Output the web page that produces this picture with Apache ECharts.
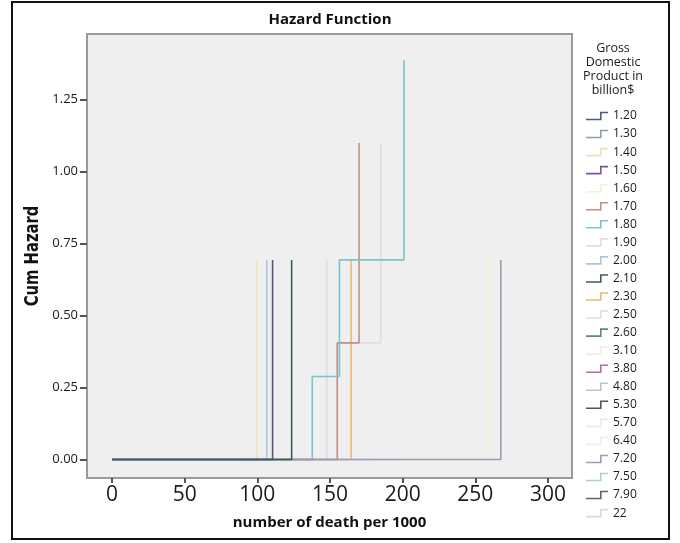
<!DOCTYPE html>
<html>
<head>
<meta charset="utf-8">
<script src="https://cdn.jsdelivr.net/npm/echarts@6/dist/echarts.min.js"></script>
<style>
  body { margin: 0; background: #fff; }
  #chart { width: 680px; height: 543px; }
</style>
</head>
<body>
<div id="chart"></div>
<script>
// GDP groups as in the legend
const groups = ['1.20', '1.30', '1.40', '1.50', '1.60', '1.70', '1.80', '1.90', '2.00', '2.10', '2.30',
  '2.50', '2.60', '3.10', '3.80', '4.80', '5.30', '5.70', '6.40', '7.20', '7.50', '7.90', '22'];

// step times (number of death per 1000) and cum hazard after each step, per group
const stepTimes = [
  [0, 110.5], [0, 130], [0, 99.5], [0, 145], [0, 258.5], [0, 155, 170], [0, 137.8, 156.5, 200.9],
  [0, 155, 184.9], [0, 106.5], [0, 123.6], [0, 164.5], [0, 147.8], [0, 120], [0, 84.6],
  [0, 140], [0, 180], [0, 100], [0, 275], [0, 90], [0, 267.5], [0, 150], [0, 110], [0, 200]
];
const stepHazard = [
  [0, 0.693], [0, 0], [0, 0.693], [0, 0], [0, 0.693], [0, 0.405, 1.099], [0, 0.288, 0.693, 1.386],
  [0, 0.405, 1.099], [0, 0.693], [0, 0.693], [0, 0.693], [0, 0.693], [0, 0], [0, 0.693],
  [0, 0], [0, 0], [0, 0], [0, 0], [0, 0], [0, 0.693], [0, 0], [0, 0], [0, 0]
];

// tick labels
const xTickValues = [0, 50, 100, 150, 200, 250, 300];
const yTickValues = [0, 0.25, 0.5, 0.75, 1.0, 1.25];

// SPSS-like palette, one per group
const groupColors = ['#4e5c78', '#86a892', '#ece4bc', '#7c5690', '#f6f1d6', '#c09088', '#78c4cc',
  '#e4dce4', '#aac6e2', '#3e5c5e', '#e6bc72', '#e2dae8', '#5a8686', '#eef0e6', '#b86c98',
  '#b8c4d4', '#555555', '#ebebf0', '#efefef', '#9c9cb4', '#a8d6c6', '#646464', '#d4dbe3'];
// darker lines drawn on top
const lineZ = { '1.20': 5, '2.10': 5, '7.20': 4, '1.80': 4, '1.70': 4 };

const FONT = '"Open Sans", "DejaVu Sans", sans-serif';

let myChart = echarts.init(document.getElementById('chart'));

const series = groups.map(function (g, i) {
  return {
    name: g,
    type: 'line',
    step: 'end',
    showSymbol: false,
    symbol: 'none',
    z: lineZ[g] || 2,
    color: groupColors[i],
    lineStyle: { width: 1.6, color: groupColors[i] },
    emphasis: { disabled: true },
    data: stepTimes[i].map(function (t, k) { return [t, stepHazard[i][k]]; })
  };
});

myChart.setOption({
  animation: false,
  backgroundColor: '#fff',
  // grid = the grey plot frame
  grid: { left: 87, right: 108, top: 34, bottom: 65 },
  xAxis: {
    type: 'value',
    min: -17.2, max: 316.5,
    axisLine: { show: false, onZero: false },
    axisTick: { show: true, length: 5, customValues: xTickValues, lineStyle: { color: '#555', width: 2 } },
    axisLabel: { fontSize: 21, color: '#1a1a1a', margin: 7, fontFamily: FONT, customValues: xTickValues },
    splitLine: { show: false },
    name: 'number of death per 1000',
    nameLocation: 'middle',
    nameGap: 37,
    nameTextStyle: { fontSize: 15, fontWeight: 'bold', color: '#111', fontFamily: FONT }
  },
  yAxis: {
    type: 'value',
    min: -0.0642, max: 1.4774,
    axisLine: { show: false, onZero: false },
    axisTick: { show: true, length: 7, customValues: yTickValues, lineStyle: { color: '#555', width: 2 } },
    axisLabel: {
      fontSize: 13, color: '#1a1a1a', margin: 9, fontFamily: FONT, customValues: yTickValues,
      formatter: function (v) { return v.toFixed(2); }
    },
    splitLine: { show: false }
  },
  legend: {
    orient: 'vertical',
    left: 586,
    top: 110,
    padding: 0,
    itemWidth: 22,
    itemHeight: 9,
    itemGap: 6.05,
    icon: 'path://M0,8 L14,8 L14,1 L22,1 L22,2.6 L15.6,2.6 L15.6,9.6 L0,9.6 Z',
    data: groups,
    selectedMode: false,
    textStyle: { fontSize: 12, color: '#1a1a1a', lineHeight: 9, fontFamily: FONT }
  },
  graphic: [
    {
      type: 'rect', z: 0, silent: true,
      shape: { x: 87, y: 34, width: 485, height: 444 },
      style: { fill: '#efefef', stroke: '#9a9a9a', lineWidth: 2 }
    },
    {
      type: 'rect', z: 10, silent: true,
      shape: { x: 12, y: 2, width: 657, height: 537 },
      style: { fill: 'none', stroke: '#111', lineWidth: 2 }
    },
    {
      type: 'text', z: 10, x: 330, y: 12,
      style: { text: 'Hazard Function', fontSize: 15, fontWeight: 'bold', fill: '#111',
        fontFamily: FONT, textAlign: 'center' }
    },
    {
      type: 'text', z: 10, x: 613, y: 41,
      style: { text: 'Gross\nDomestic\nProduct in\nbillion$', fontSize: 12.5, lineHeight: 14,
        fill: '#1a1a1a', fontFamily: FONT, textAlign: 'center' }
    },
    {
      type: 'text', z: 10, x: 33, y: 256, rotation: Math.PI / 2, scaleX: 0.82,
      style: { text: 'Cum Hazard', fontSize: 20, fontWeight: 'bold', fill: '#111',
        fontFamily: '"Liberation Sans Narrow", "DejaVu Sans Condensed", sans-serif',
        textAlign: 'center', textVerticalAlign: 'middle' }
    }
  ],
  series: series
});
</script>
</body>
</html>
